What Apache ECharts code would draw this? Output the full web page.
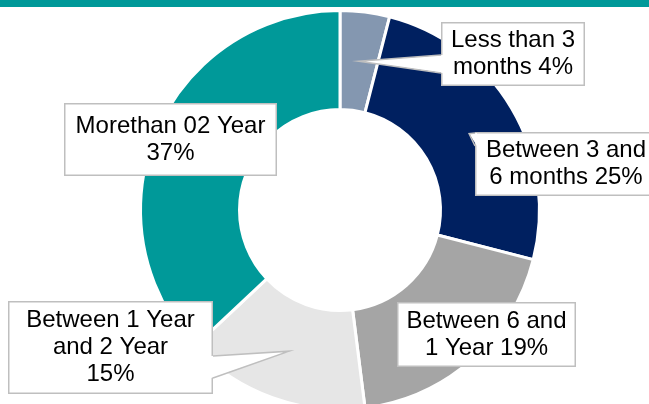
<!DOCTYPE html>
<html>
<head>
<meta charset="utf-8" />
<title>donut</title>
<script src="https://cdn.jsdelivr.net/npm/echarts@6/dist/echarts.min.js"></script>
<style>html,body{margin:0;padding:0;background:#fff;}</style>
</head>
<body>
<div id="main" style="width:649px;height:404px;"></div>
<script type="text/javascript">
var categories = ['Less than 3\nmonths', 'Between 3 and\n6 months', 'Between 6 and\n1 Year', 'Between 1 Year\nand 2 Year', 'Morethan 02 Year'];
var values = [4, 25, 19, 15, 37];
var colors = ['#8497B0', '#002060', '#A5A5A5', '#E6E6E6', '#009999'];
// percent goes on the same line or on a new one
var joins = [' ', ' ', ' ', '\n', '\n'];

// layout of the callout boxes: centre, size, and where the pointer leaves the box
// (side: +1 = pointer leaves the left edge, -1 = the right edge)
var center = [340, 210];
var radius = [100.5, 199.5];
var boxes = [
	{x: 513, y: 54, w: 144, h: 64, base: [[441, 55], [441, 73]], side: 1},
	{x: 566, y: 164, w: 182, h: 64, base: [[475, 133], [475, 146]], side: 1},
	{x: 486.5, y: 334.5, w: 179, h: 65, base: null},
	{x: 110.5, y: 347.5, w: 205, h: 93, base: [[213, 356], [213, 378]], side: -1},
	{x: 170.5, y: 139.5, w: 213, h: 73, base: null}
];
var lineH = 27;

var total = 0;
for (var i = 0; i < values.length; i++) total += values[i];

// pointer tips sit in the middle of each slice
var tips = [];
var acc = 0;
var midR = (radius[0] + radius[1]) / 2;
for (var i = 0; i < values.length; i++) {
	var a = (acc + values[i] / 2) / total * Math.PI * 2;
	tips.push([center[0] + midR * Math.sin(a), center[1] - midR * Math.cos(a)]);
	acc += values[i];
}

var data = [];
var pointers = [];
for (var i = 0; i < values.length; i++) {
	var txt = categories[i] + joins[i] + values[i] + '%';
	var lines = txt.split('\n').length;
	var b = boxes[i];
	data.push({
		name: categories[i],
		value: values[i],
		itemStyle: {color: colors[i]},
		label: {
			formatter: txt,
			width: b.w - 3,
			padding: [(b.h - lines * lineH) / 2 - 1.5, 0]
		}
	});
	if (b.base) {
		// white wedge that covers the box border where it joins
		pointers.push({
			type: 'polygon',
			z: 100,
			shape: {points: [[b.base[0][0] + b.side * 2, b.base[0][1]], tips[i], [b.base[1][0] + b.side * 2, b.base[1][1]]]},
			style: {fill: '#fff', stroke: null}
		});
		pointers.push({
			type: 'polyline',
			z: 101,
			shape: {points: [b.base[0], tips[i], b.base[1]]},
			style: {fill: null, stroke: '#BFBFBF', lineWidth: 1.5}
		});
	}
}

var myChart = echarts.init(document.getElementById('main'));
var option = {
	animation: false,
	graphic: [{
		type: 'rect',
		left: 0,
		top: 0,
		shape: {width: 649, height: 7},
		style: {fill: '#009999'}
	}].concat(pointers),
	series: [{
		type: 'pie',
		center: center,
		radius: radius,
		startAngle: 90,
		clockwise: true,
		avoidLabelOverlap: false,
		emphasis: {disabled: true},
		itemStyle: {borderColor: '#fff', borderWidth: 3},
		label: {
			show: true,
			position: 'outside',
			fontFamily: 'Liberation Sans, Arial, sans-serif',
			fontSize: 24,
			lineHeight: lineH,
			color: '#000',
			align: 'center',
			backgroundColor: '#fff',
			borderColor: '#BFBFBF',
			borderWidth: 1.5
		},
		labelLine: {show: false},
		labelLayout: function (params) {
			var b = boxes[params.dataIndex];
			return {x: b.x, y: b.y, align: 'center', verticalAlign: 'middle'};
		},
		data: data
	}]
};
myChart.setOption(option);
</script>
</body>
</html>
